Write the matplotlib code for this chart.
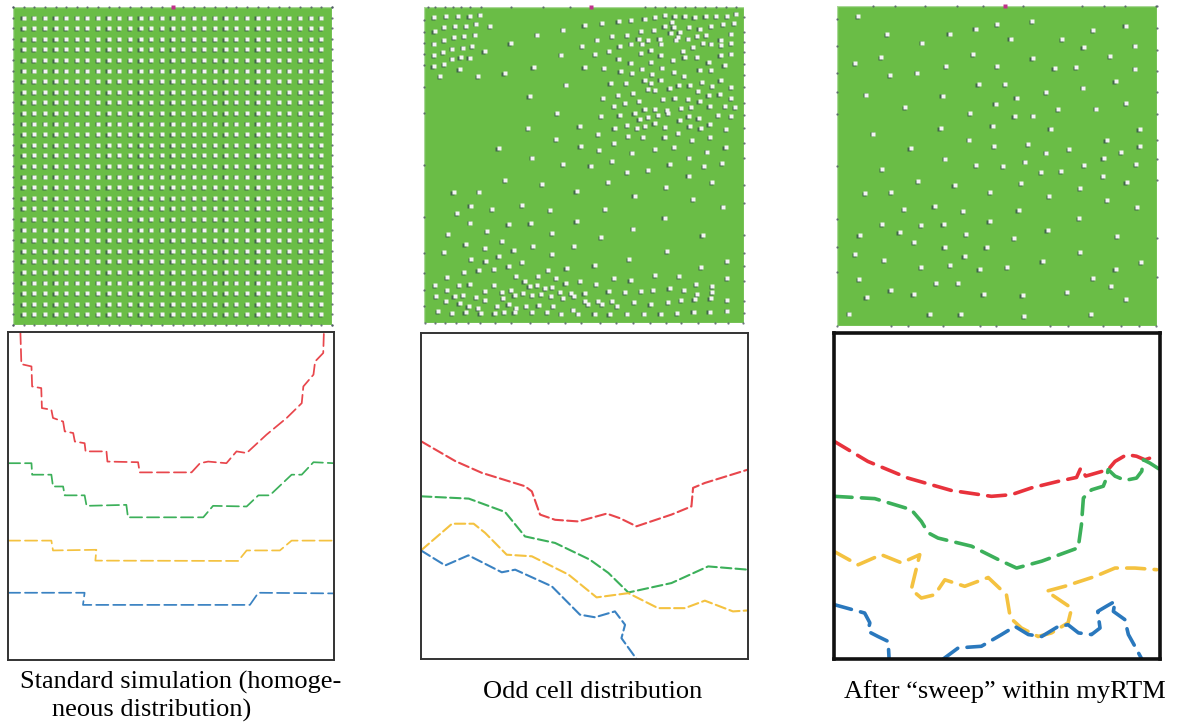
"""Three-panel figure: cell distributions (top) and dashed iso-contours (bottom)."""
import matplotlib
matplotlib.use("Agg")
import matplotlib.pyplot as plt
import matplotlib.transforms as mtransforms
import numpy as np
from matplotlib.patches import Rectangle

W, H = 1183, 724

GREEN = "#6abd46"
DOT = "#f4f4f4"
SHADOW = "#2c3a4c"
C_RED = "#e8464c"
C_GREEN = "#3cb05a"
C_YELLOW = "#f4c240"
C_BLUE = "#3a82c2"

# ---------- top panels: cell positions ----------
# homogeneous lattice: 29 x 29 interior nodes on a 30-step grid
GRID_NODES = [1, 2, 3, 4, 5, 6, 7, 8, 9, 10, 11, 12, 13, 14, 15,
              16, 17, 18, 19, 20, 21, 22, 23, 24, 25, 26, 27, 28, 29]
GRID_EDGE = [0, 1, 2, 3, 4, 5, 6, 7, 8, 9, 10, 11, 12, 13, 14, 15,
             16, 17, 18, 19, 20, 21, 22, 23, 24, 25, 26, 27, 28, 29, 30]

# odd distribution (domain x 28..988, y 20..970, y downwards)
ODD_CELLS = [
    (58, 50), (95, 48), (130, 47), (165, 47), (197, 43),
    (60, 92), (88, 80), (122, 78), (155, 77), (185, 70), (226, 77),
    (58, 130), (88, 120), (118, 110), (148, 108), (182, 103),
    (58, 165), (85, 155), (113, 145), (145, 142), (172, 137), (210, 152),
    (57, 197), (88, 192), (113, 175), (138, 170), (165, 172),
    (77, 227), (135, 207), (190, 227), (270, 218), (288, 128), (368, 103),
    (445, 88), (510, 75), (562, 68),
    (440, 163), (357, 200), (502, 138), (548, 118), (542, 162), (510, 200),
    (455, 253), (568, 203),
    (612, 62), (650, 60), (690, 55), (722, 50), (752, 45), (780, 48),
    (810, 47), (840, 50), (873, 47), (905, 48), (937, 47), (965, 40),
    (680, 93), (718, 90), (750, 77), (772, 65), (777, 80), (795, 95),
    (823, 80), (855, 85), (890, 78), (925, 72), (958, 68),
    (593, 108), (638, 105), (672, 115), (700, 120), (735, 115), (768, 97),
    (790, 110), (820, 115), (848, 108), (875, 105), (918, 118), (950, 100),
    (615, 138), (650, 130), (682, 130), (708, 150), (740, 130), (785, 118),
    (805, 152), (835, 140), (865, 128), (890, 130), (920, 135), (950, 128),
    (583, 153), (612, 175), (648, 187), (680, 158), (710, 185), (738, 165),
    (775, 180), (810, 170), (848, 170), (882, 185), (918, 165), (950, 160),
    (618, 213), (652, 218), (682, 205), (712, 222), (742, 202), (778, 215),
    (808, 228), (855, 208), (890, 210), (930, 195),
    (588, 248), (635, 248), (690, 240), (710, 248), (738, 238), (765, 265),
    (792, 255), (825, 255), (862, 245), (892, 258), (918, 240), (950, 262),
    (565, 295), (610, 285), (655, 278), (700, 268), (722, 270), (745, 297),
    (780, 293), (820, 297), (850, 272), (882, 285), (915, 282), (950, 295),
    (598, 318), (632, 310), (673, 302), (690, 328), (722, 327), (757, 330),
    (800, 325), (830, 320), (855, 302), (885, 318), (932, 318), (962, 322),
    (615, 345), (660, 340), (675, 358), (700, 350), (730, 345), (760, 340),
    (795, 360), (822, 348), (852, 355), (910, 345), (950, 347),
    (600, 385), (637, 375), (667, 385), (692, 378), (720, 370), (752, 380),
    (790, 398), (825, 378), (858, 385), (885, 372), (935, 387),
    (640, 408), (685, 410), (750, 410), (832, 420), (886, 410),
    (560, 348), (495, 378), (428, 340), (340, 383), (345, 288), (425, 418),
    (498, 437), (550, 403), (553, 450), (598, 430), (652, 458), (722, 447),
    (778, 442), (823, 473), (878, 455), (933, 440),
    (445, 493), (352, 473), (252, 443), (528, 497), (593, 483), (637, 517),
    (700, 510), (765, 493), (868, 498), (922, 490),
    (272, 541), (382, 553), (486, 573), (580, 547), (660, 587), (755, 562),
    (822, 527), (893, 547),
    (117, 577), (193, 575), (128, 640), (168, 617), (233, 627), (322, 615),
    (407, 630), (572, 627), (835, 598), (925, 620),
    (166, 668), (218, 693), (282, 672), (348, 669), (486, 663), (656, 686),
    (750, 653), (864, 705),
    (100, 702), (153, 733), (212, 746), (262, 723), (297, 752), (355, 738),
    (412, 700), (478, 738), (560, 711),
    (88, 757), (170, 778), (213, 783), (252, 770), (282, 800), (322, 788),
    (412, 763), (456, 805), (540, 795), (644, 778), (757, 753), (860, 803),
    (937, 785),
    (148, 818), (192, 810), (238, 808), (305, 830), (370, 828), (400, 810),
    (425, 835), (453, 850), (497, 843), (545, 853), (598, 836), (648, 842),
    (722, 825), (793, 830), (845, 852), (892, 858), (938, 836),
    (62, 855), (97, 833), (133, 857), (165, 853), (212, 875), (238, 857),
    (262, 878), (290, 870), (330, 845), (345, 860), (368, 856), (392, 866),
    (413, 862), (437, 877), (470, 880), (510, 880), (582, 875), (632, 876),
    (680, 875), (716, 870), (765, 866), (808, 872), (848, 882), (893, 878),
    (65, 890), (98, 870), (120, 888), (145, 885), (185, 893), (212, 900),
    (265, 895), (300, 887), (325, 880), (352, 886), (380, 882), (410, 890),
    (445, 895), (478, 890), (512, 905), (550, 903), (592, 905), (658, 908),
    (708, 912), (760, 906), (800, 900), (840, 898), (888, 895), (937, 902),
    (95, 905), (135, 910), (162, 918), (190, 925), (248, 918), (282, 913),
    (305, 925), (335, 918), (372, 915), (415, 920), (475, 930), (520, 912),
    (563, 912), (607, 918),
    (70, 935), (112, 940), (153, 938), (198, 940), (240, 940), (268, 938),
    (300, 938), (352, 938), (398, 938), (440, 942), (490, 942), (540, 942),
    (585, 943), (637, 942), (688, 942), (738, 942), (788, 940), (837, 936),
    (885, 936), (937, 933),
]
ODD_EDGE_TOP = [40, 60, 90, 115, 140, 165, 200, 290, 385, 465, 690, 720,
                750, 780, 810, 840, 870, 905, 935, 965]
ODD_EDGE_BOTTOM = [30, 60, 90, 125, 160, 195, 240, 290, 345, 400, 450, 500,
                   555, 605, 655, 705, 755, 800, 850, 900, 940, 985]
ODD_EDGE_LEFT = [60, 95, 128, 160, 195, 260, 340, 495, 650, 760, 820, 870, 920]
ODD_EDGE_RIGHT = [50, 95, 125, 155, 190, 225, 260, 310, 345, 385, 430, 475,
                  555, 610, 705, 760, 800, 845, 905, 940]

# after sweep (domain x 37..997, y 17..978, y downwards)
SWEEP_CELLS = [
    (100, 48), (188, 102), (293, 127), (375, 100), (453, 85), (518, 72),
    (558, 115), (622, 62), (713, 116), (777, 140), (806, 90), (903, 76),
    (932, 136), (857, 168), (932, 205), (873, 242), (905, 308), (815, 325),
    (775, 262), (755, 200), (690, 203), (664, 276), (701, 327), (624, 173),
    (518, 197), (446, 162), (365, 197), (278, 217), (197, 224), (170, 170),
    (92, 188), (124, 283), (242, 321), (354, 286), (462, 252), (541, 251),
    (576, 292), (513, 310), (436, 338), (570, 347), (626, 346), (504, 376),
    (348, 384), (678, 385), (945, 386), (145, 400), (258, 444), (434, 418),
    (509, 437), (610, 431), (664, 457), (734, 447), (846, 419), (890, 455),
    (945, 438), (361, 475), (455, 495), (536, 497), (601, 484), (650, 517),
    (710, 512), (778, 495), (837, 474), (934, 491), (835, 529), (906, 546),
    (172, 507), (280, 543), (390, 555), (496, 575), (590, 548), (674, 589),
    (766, 565), (848, 600), (122, 578), (199, 577), (239, 628), (330, 617),
    (416, 632), (582, 631), (938, 622), (172, 672), (290, 674), (357, 671),
    (495, 663), (763, 655), (669, 690), (105, 705), (225, 696), (268, 726),
    (424, 703), (569, 714), (877, 707), (92, 762), (178, 780), (360, 742),
    (486, 741), (420, 767), (766, 757), (289, 802), (376, 795), (465, 808),
    (548, 800), (654, 782), (950, 787), (103, 838), (873, 807), (805, 835),
    (335, 850), (401, 850), (860, 858), (126, 891), (198, 869), (267, 882),
    (477, 882), (594, 885), (728, 876), (904, 898), (74, 941), (315, 943),
    (408, 942), (598, 948), (800, 942),
]
SWEEP_EDGE_TOP = [145, 210, 300, 397, 475, 595, 772, 837, 900, 995]
SWEEP_EDGE_BOTTOM = [37, 198, 250, 355, 465, 515, 677, 730, 835, 888, 942, 995]
SWEEP_EDGE_LEFT = [57, 137, 217, 275, 340, 497, 657, 740, 815]
SWEEP_EDGE_RIGHT = [18, 82, 148, 212, 275, 340, 420, 475, 540, 715, 830]

# ---------- bottom panels: contour paths, % of box (y downwards) ----------
STD_RED = [(3.8, 0), (4.1, 9.8), (7.2, 10.5), (7.4, 16.6), (10.2, 17.1),
           (10.4, 23.2), (13.3, 23.7), (13.8, 26.2), (16.9, 27.3), (17.4, 30.3),
           (20.0, 30.8), (20.5, 33.4), (23.5, 33.9), (23.8, 36.4), (30.2, 36.4),
           (30.5, 39.5), (39.9, 39.7), (40.4, 42.8), (56.3, 42.8), (58.9, 40.0),
           (61.4, 39.5), (67.0, 40.0), (70.1, 36.4), (73.2, 36.9), (79.3, 31.3),
           (85.5, 26.2), (90.1, 21.7), (90.6, 16.6), (93.7, 13.0), (94.2, 9.0),
           (96.7, 6.4), (96.9, 0)]
STD_GREEN = [(0, 40.0), (7.2, 40.0), (7.4, 43.5), (13.3, 43.5), (13.8, 47.1),
             (16.9, 47.1), (17.4, 49.8), (23.5, 49.8), (24.1, 53.0), (36.3, 52.7),
             (36.8, 56.5), (59.9, 56.5), (62.9, 53.0), (73.2, 53.2), (76.8, 49.8),
             (80.3, 49.8), (87.0, 43.5), (90.1, 43.5), (93.7, 39.7), (100, 40.0)]
STD_YELLOW = [(0, 63.6), (13.3, 63.6), (13.8, 66.6), (27.1, 66.4), (26.8, 69.7),
              (70.6, 69.8), (73.2, 66.6), (83.4, 66.6), (87.0, 63.6), (100, 63.6)]
STD_BLUE = [(0, 79.5), (23.5, 79.5), (23.0, 83.2), (74.2, 83.2), (76.8, 79.5),
            (100, 79.7)]

ODD_RED = [(0, 33.2), (10.5, 39.3), (18.6, 42.9), (31.8, 47.0), (33.9, 48.6),
           (36.4, 55.7), (41.0, 57.3), (48.1, 57.8), (56.8, 55.4), (60.8, 56.8),
           (65.9, 59.3), (76.6, 55.7), (82.7, 53.2), (83.2, 47.5), (86.8, 46.0),
           (100, 41.9)]
ODD_GREEN = [(0, 50.1), (14.6, 50.8), (25.7, 54.9), (31.8, 62.4), (41.0, 64.4),
             (51.6, 69.5), (57.3, 73.6), (63.4, 79.6), (76.6, 76.7), (87.8, 71.6),
             (100, 72.6)]
ODD_YELLOW = [(0, 66.7), (9.5, 58.5), (16.1, 58.5), (19.6, 61.3), (26.2, 68.0),
              (33.9, 68.5), (45.1, 74.1), (53.7, 81.1), (63.4, 79.8), (72.5, 84.4),
              (80.7, 84.4), (86.8, 82.1), (95.4, 85.4), (100, 85.1)]
ODD_BLUE = [(0, 66.7), (7.4, 71.3), (14.5, 68.2), (24.7, 73.4), (28.8, 72.6),
            (40.0, 77.7), (48.6, 86.4), (53.2, 87.2), (59.3, 85.4), (62.4, 89.5),
            (61.3, 93.6), (65.9, 100)]

SWP_RED = [(0, 33.2), (10.4, 39.4), (22.7, 44.5), (36.0, 48.3), (48.3, 50.1),
           (54.4, 49.6), (60.6, 47.5), (68.8, 45.5), (74.4, 44.3), (75.7, 41.4),
           (77.2, 43.9), (84.1, 41.9), (86.2, 39.4), (89.8, 37.3), (92.8, 37.8),
           (95.4, 38.9), (98.0, 38.0)]
SWP_GREEN = [(0, 50.1), (12.5, 50.8), (23.7, 54.2), (26.8, 57.8), (28.9, 61.3),
             (31.9, 62.9), (42.2, 65.4), (50.4, 69.5), (56.0, 72.1), (63.7, 70.0),
             (74.9, 65.9), (75.9, 58.8), (76.5, 50.6), (79.0, 48.1), (82.6, 47.0),
             (83.6, 44.5), (84.1, 41.9), (86.2, 43.9), (89.3, 45.2), (92.8, 44.5),
             (94.4, 42.4), (94.9, 38.9), (96.9, 39.9), (100, 41.9)]
SWP_YELLOW = [(0, 67.0), (7.4, 71.1), (14.5, 68.0), (20.7, 70.5), (26.3, 68.0),
              (24.3, 76.2), (23.7, 78.7), (26.8, 81.3), (30.9, 80.3), (34.0, 75.7),
              (40.1, 77.7), (47.3, 75.0), (52.9, 80.3), (54.1, 87.4), (57.5, 90.5),
              (62.6, 93.1), (66.7, 92.0), (71.8, 88.9), (72.9, 84.4), (65.2, 79.2),
              (70.8, 77.7), (80.0, 74.7), (86.2, 72.1), (92.3, 72.1), (99.0, 72.6)]
SWP_BLUE_A = [(0, 83.3), (9.4, 85.9), (11.0, 88.9), (10.4, 91.5), (13.5, 93.1),
              (16.6, 94.6), (16.9, 100)]
SWP_BLUE_B = [(33.5, 100), (38.1, 96.6), (45.2, 96.1), (51.4, 92.5), (55.5, 90.0),
              (59.6, 92.5), (63.7, 93.1), (68.8, 90.0), (71.8, 89.5), (75.0, 92.0),
              (79.0, 92.5), (81.6, 90.5), (80.9, 85.4), (83.6, 83.8), (86.2, 82.3),
              (85.7, 85.4), (89.2, 87.9), (90.3, 92.5), (92.3, 96.1), (94.4, 100)]

CAPTION_STD = ["Standard simulation (homoge-", "neous distribution)"]
CAPTION_ODD = "Odd cell distribution"
CAPTION_SWP = "After \u201csweep\u201d within myRTM"

plt.rcParams["font.family"] = ["Liberation Serif", "DejaVu Serif"]

fig = plt.figure(figsize=(W / 100, H / 100), dpi=100)
fig.patch.set_facecolor("white")


def px_axes(x0, y0, x1, y1):
    return fig.add_axes([x0 / W, 1 - y1 / H, (x1 - x0) / W, (y1 - y0) / H])


def cell_panel(ax, xs, ys, xlim, ylim, edges, mag_x, ms):
    ax.set_xlim(*xlim)
    ax.set_ylim(ylim[1], ylim[0])
    ax.axis("off")
    ax.add_patch(Rectangle((xlim[0], ylim[0]), xlim[1] - xlim[0], ylim[1] - ylim[0],
                           facecolor=GREEN, edgecolor="#a9d897", linewidth=1.0,
                           zorder=0))
    shadow = mtransforms.offset_copy(ax.transData, fig=fig, x=-1.2, y=-0.8,
                                     units="dots")
    ax.plot(xs, ys, "s", ms=ms, color=SHADOW, mec="none", alpha=0.65,
            transform=shadow, zorder=2)
    ax.plot(xs, ys, "s", ms=ms, color=DOT, mec="none", zorder=3)
    ex, ey = edges
    ax.plot(ex, ey, "o", ms=1.6, color="#4a5560", mec="none", alpha=0.8,
            clip_on=False, zorder=4)
    ax.plot([mag_x], [ylim[0]], "s", ms=2.6, color="#c0308c", mec="none",
            clip_on=False, zorder=5)


def edge_points(top, bottom, left, right, xlim, ylim):
    ex = list(top) + list(bottom) + [xlim[0]] * len(left) + [xlim[1]] * len(right)
    ey = ([ylim[0]] * len(top) + [ylim[1]] * len(bottom) + list(left) + list(right))
    return ex, ey


# --- top 1: homogeneous grid
ax1 = px_axes(13, 7, 332, 325)
gx, gy = np.meshgrid(GRID_NODES, GRID_NODES)
e1 = edge_points(GRID_EDGE, GRID_EDGE, GRID_EDGE, GRID_EDGE, (0, 30), (0, 30))
cell_panel(ax1, gx.ravel(), gy.ravel(), (0, 30), (0, 30), e1, 15, 2.3)

# --- top 2: odd distribution
ax2 = px_axes(424, 7, 744, 323)
odd = np.array(ODD_CELLS)
e2 = edge_points(ODD_EDGE_TOP, ODD_EDGE_BOTTOM, ODD_EDGE_LEFT, ODD_EDGE_RIGHT,
                 (28, 988), (20, 970))
cell_panel(ax2, odd[:, 0], odd[:, 1], (28, 988), (20, 970), e2, 530, 2.2)

# --- top 3: after sweep
ax3 = px_axes(837, 6, 1157, 326)
swp = np.array(SWEEP_CELLS)
e3 = edge_points(SWEEP_EDGE_TOP, SWEEP_EDGE_BOTTOM, SWEEP_EDGE_LEFT,
                 SWEEP_EDGE_RIGHT, (37, 997), (17, 978))
cell_panel(ax3, swp[:, 0], swp[:, 1], (37, 997), (17, 978), e3, 541, 2.4)


def contour_panel(ax, paths, lw, dash, frame_lw, frame_color):
    ax.set_xlim(0, 100)
    ax.set_ylim(100, 0)
    ax.set_xticks([])
    ax.set_yticks([])
    for sp in ax.spines.values():
        sp.set_linewidth(frame_lw)
        sp.set_color(frame_color)
    for pts, color in paths:
        p = np.array(pts)
        ax.plot(p[:, 0], p[:, 1], color=color, lw=lw, linestyle=(0, dash),
                solid_capstyle="round", dash_capstyle="round")


bx1 = px_axes(8, 332, 334, 660)
contour_panel(bx1, [(STD_RED, C_RED), (STD_GREEN, C_GREEN),
                    (STD_YELLOW, C_YELLOW), (STD_BLUE, C_BLUE)],
              1.25, (7.0, 2.8), 1.4, "#333333")

bx2 = px_axes(421, 333, 748, 659)
contour_panel(bx2, [(ODD_RED, C_RED), (ODD_GREEN, C_GREEN),
                    (ODD_YELLOW, C_YELLOW), (ODD_BLUE, C_BLUE)],
              1.5, (5.0, 2.0), 1.4, "#333333")

bx3 = px_axes(834, 333, 1160, 659)
contour_panel(bx3, [(SWP_RED, "#e8323c"), (SWP_GREEN, C_GREEN),
                    (SWP_YELLOW, C_YELLOW), (SWP_BLUE_A, "#2a78bd"),
                    (SWP_BLUE_B, "#2a78bd")],
              2.6, (5.0, 2.6), 2.6, "#111111")

# --- captions
fig.text(20 / W, 1 - 682 / H, CAPTION_STD[0], ha="left", va="center", fontsize=19)
fig.text(52 / W, 1 - 710 / H, CAPTION_STD[1], ha="left", va="center", fontsize=19)
fig.text(593 / W, 1 - 692 / H, CAPTION_ODD, ha="center", va="center", fontsize=19)
fig.text(1005 / W, 1 - 692 / H, CAPTION_SWP, ha="center", va="center", fontsize=19)

fig.savefig("out.png", dpi=100, facecolor="white")
